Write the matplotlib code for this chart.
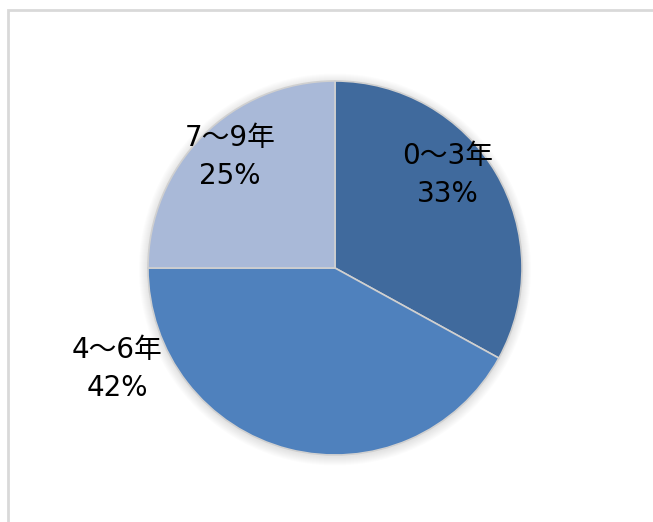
import matplotlib.pyplot as plt
from matplotlib.patches import Circle, Rectangle

plt.rcParams['font.family'] = ['DejaVu Sans', 'Noto Sans CJK JP']

labels = ['0～3年', '4～6年', '7～9年']
shares = [33, 42, 25]
colors = ['#406A9D', '#4F81BD', '#A9B9D8']

# label anchor points (pixel coords, origin top-left)
label_xy = [(448, 175), (117, 369), (230, 157)]

W, H = 653, 522
cx, cy, r = 335, 268, 187

fig = plt.figure(figsize=(W / 100, H / 100), dpi=100)
ax = fig.add_axes([0, 0, 1, 1])

# outer chart frame
ax.add_patch(Rectangle((8, -20), W + 20, H - 10 + 20, fill=False,
                       edgecolor='#d9d9d9', linewidth=2))

# soft shadow under the pie
for k in range(1, 10):
    ax.add_patch(Circle((cx, H - cy - 1.5), r + k, color='black',
                        alpha=0.012, linewidth=0, zorder=1))

ax.pie(shares, colors=colors, startangle=90, counterclock=False,
       center=(cx, H - cy), radius=r, frame=True,
       wedgeprops=dict(edgecolor='#d0d0d0', linewidth=1.2, zorder=2))
ax.set_xlim(0, W)
ax.set_ylim(0, H)
ax.set_aspect('equal')
ax.axis('off')

for lab, val, (x, y) in zip(labels, shares, label_xy):
    ax.text(x, H - y, f'{lab}\n{val}%', ha='center', va='center',
            fontsize=20, color='black', linespacing=1.45, zorder=5)

fig.savefig('out.png', dpi=100)
